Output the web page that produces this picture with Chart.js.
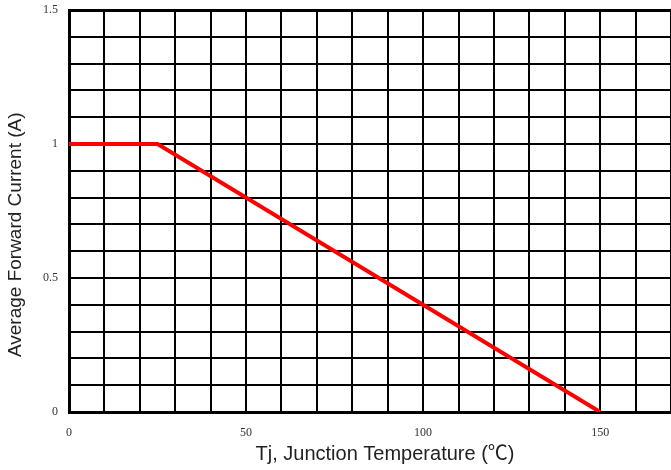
<!DOCTYPE html>
<html>
<head>
<meta charset="utf-8">
<script src="https://cdn.jsdelivr.net/npm/chart.js@4"></script>
<style>
  html, body { margin: 0; padding: 0; background: #fff; }
  #wrap { width: 671px; height: 470px; }
</style>
</head>
<body>
<div id="wrap"><canvas id="derating-chart"></canvas></div>
<script>
// derating curve
const tempC = [0, 25, 150];
const currentA = [1, 1, 0];
const xMin = 0, xMax = 170, xGridStep = 10;
const yMin = 0, yMax = 1.5, yGridStep = 0.1;
const xTickLabels = [0, 50, 100, 150];
const yTickLabels = [0, 0.5, 1, 1.5];

function setupChart() {
    const ctx = document.getElementById('derating-chart').getContext('2d');
    const points = tempC.map((t, i) => ({ x: t, y: currentA[i] }));
    const tickFont = { family: 'Liberation Serif', size: 12 };

    const config = {
        type: 'scatter',
        data: {
            datasets: [{
                data: points,
                xAxisID: 'x',
                yAxisID: 'y',
                showLine: true,
                borderColor: '#ff0000',
                borderWidth: 4,
                pointRadius: 0,
                fill: false
            }]
        },
        options: {
            responsive: true,
            maintainAspectRatio: false,
            animation: false,
            layout: { padding: { top: 10, right: 0, left: 0, bottom: 0 } },
            plugins: { legend: { display: false }, tooltip: { enabled: false } },
            scales: {
                // axes that carry the labels and the heavy border
                x: {
                    type: 'linear',
                    position: 'bottom',
                    min: xMin,
                    max: xMax,
                    afterBuildTicks: (scale) => {
                        scale.ticks = xTickLabels.map(v => ({ value: v }));
                    },
                    afterFit: (scale) => {
                        scale.height = 58;
                        scale.paddingRight = 0;
                        scale.paddingLeft = 0;
                    },
                    ticks: {
                        autoSkip: false,
                        maxRotation: 0,
                        padding: 14,
                        color: '#333',
                        font: tickFont,
                        callback: (v) => String(v)
                    },
                    grid: { display: false, drawTicks: false },
                    border: { color: '#000', width: 3 },
                    title: {
                        display: true,
                        // leading spaces push the text right, as in the original
                        text: '\u2003\u2002Tj, Junction Temperature (\u2103)',
                        color: '#222',
                        font: { family: 'Liberation Sans, Noto Sans CJK SC', size: 20 },
                        padding: { top: 0, bottom: 4 }
                    }
                },
                y: {
                    type: 'linear',
                    position: 'left',
                    min: yMin,
                    max: yMax,
                    afterBuildTicks: (scale) => {
                        scale.ticks = yTickLabels.map(v => ({ value: v }));
                    },
                    afterFit: (scale) => {
                        scale.width = 69;
                        scale.paddingTop = 0;
                        scale.paddingBottom = 0;
                    },
                    ticks: {
                        autoSkip: false,
                        padding: 11,
                        color: '#333',
                        font: tickFont,
                        callback: (v) => String(v)
                    },
                    grid: { display: false, drawTicks: false },
                    border: { color: '#000', width: 3 },
                    title: {
                        display: true,
                        // trailing spaces move the text down a little
                        text: 'Average Forward Current (A)\u2003\u2003\u2002',
                        color: '#222',
                        font: { family: 'Liberation Sans', size: 19 },
                        padding: { top: 4, bottom: 4 }
                    }
                },
                // unlabelled axes that only draw the fine grid
                xGrid: {
                    type: 'linear',
                    position: 'bottom',
                    min: xMin,
                    max: xMax,
                    afterFit: (scale) => { scale.height = 0; scale.paddingLeft = 0; scale.paddingRight = 0; },
                    ticks: { display: false, stepSize: xGridStep, autoSkip: false },
                    grid: { color: '#000', lineWidth: 2, drawTicks: false },
                    border: { display: false }
                },
                yGrid: {
                    type: 'linear',
                    position: 'left',
                    min: yMin,
                    max: yMax,
                    afterFit: (scale) => { scale.width = 0; scale.paddingTop = 0; scale.paddingBottom = 0; },
                    ticks: { display: false, stepSize: yGridStep, autoSkip: false },
                    grid: {
                        color: '#000',
                        lineWidth: (c) => (c.tick && Math.abs(c.tick.value - yMax) < 1e-6) ? 3 : 2,
                        drawTicks: false
                    },
                    border: { display: false }
                }
            }
        }
    };

    return new Chart(ctx, config);
}

const deratingChart = setupChart();
</script>
</body>
</html>
